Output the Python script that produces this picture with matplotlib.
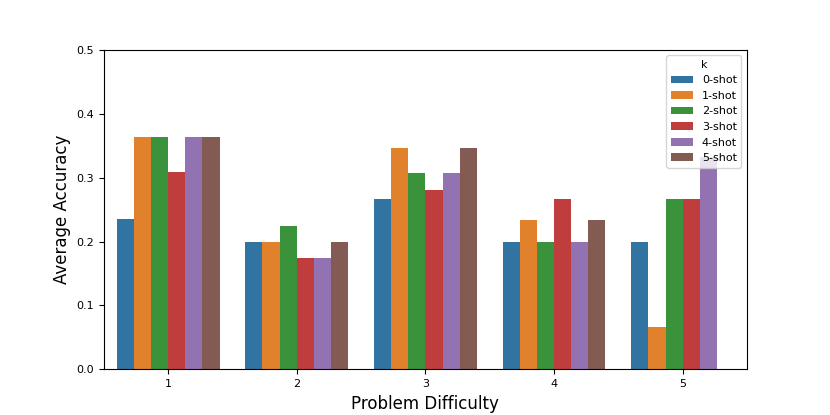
import matplotlib
matplotlib.use("Agg")
import matplotlib.pyplot as plt
import seaborn as sns
import pandas as pd
import numpy as np

difficulty = [1, 2, 3, 4, 5]
shots = ["0-shot", "1-shot", "2-shot", "3-shot", "4-shot", "5-shot"]
acc_0shot = [0.236, 0.200, 0.267, 0.200, 0.200]
acc_1shot = [0.364, 0.200, 0.347, 0.233, 0.067]
acc_2shot = [0.364, 0.225, 0.307, 0.200, 0.267]
acc_3shot = [0.309, 0.175, 0.280, 0.267, 0.267]
acc_4shot = [0.364, 0.175, 0.307, 0.200, 0.333]
acc_5shot = [0.364, 0.200, 0.347, 0.233, np.nan]

series = [acc_0shot, acc_1shot, acc_2shot, acc_3shot, acc_4shot, acc_5shot]
rows = []
for s, vals in zip(shots, series):
    for d, v in zip(difficulty, vals):
        rows.append({"Problem Difficulty": d, "k": s, "Average Accuracy": v})
df = pd.DataFrame(rows).dropna()

fig, ax = plt.subplots(figsize=(8.3, 4.15), dpi=100)
sns.barplot(data=df, x="Problem Difficulty", y="Average Accuracy", hue="k",
            hue_order=shots, ax=ax, errorbar=None)
ax.set_ylim(0, 0.5)
ax.set_xlabel("Problem Difficulty", fontsize=12)
ax.set_ylabel("Average Accuracy", fontsize=12)
ax.tick_params(labelsize=8)
leg = ax.legend(title="k", loc="upper right", fontsize=8, title_fontsize=8)
fig.savefig("out.png", dpi=100)
